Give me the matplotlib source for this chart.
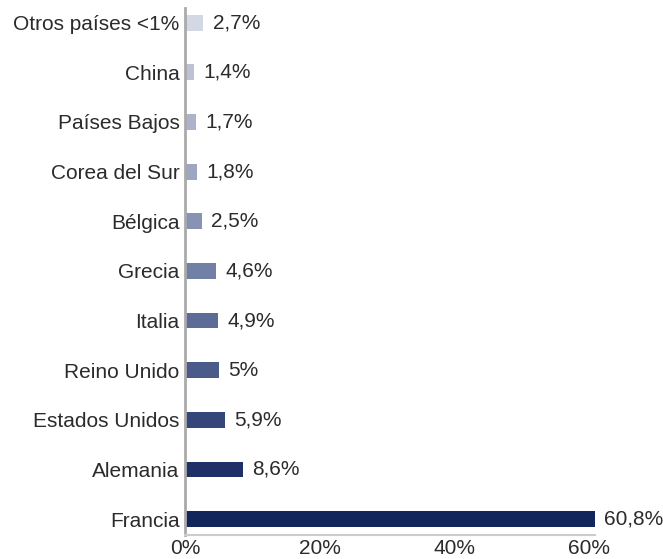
import matplotlib.pyplot as plt
import numpy as np

# Export share by country (%), listed bottom to top
countries = ['Francia', 'Alemania', 'Estados Unidos', 'Reino Unido', 'Italia',
             'Grecia', 'Bélgica', 'Corea del Sur', 'Países Bajos', 'China',
             'Otros países <1%']
shares = [60.8, 8.6, 5.9, 5.0, 4.9, 4.6, 2.5, 1.8, 1.7, 1.4, 2.7]
share_labels = ['60,8%', '8,6%', '5,9%', '5%', '4,9%', '4,6%', '2,5%',
                '1,8%', '1,7%', '1,4%', '2,7%']
x_ticks = [0, 20, 40, 60]
x_tick_labels = ['0%', '20%', '40%', '60%']

colors = ['#13265c', '#1f3068', '#34467a', '#4a5a8a', '#5d6c97', '#7181a6',
          '#8892b4', '#9ea6c2', '#adb3cb', '#bcc1d4', '#d4d8e4']

plt.rcParams['font.family'] = ['Liberation Sans', 'DejaVu Sans']
text_color = '#2b2b2b'
fs = 15

fig = plt.figure(figsize=(6.63, 5.59), dpi=100)
ax = fig.add_axes([0.279, 0.043, 0.618, 0.943])

y = np.arange(len(countries))
ax.barh(y, shares, height=0.32, color=colors, edgecolor='none')

for yi, val, lab in zip(y, shares, share_labels):
    ax.text(val + 1.4, yi, lab, va='center', ha='left', fontsize=fs, color=text_color)

ax.set_yticks(y)
ax.set_yticklabels(countries, fontsize=fs, color=text_color)
ax.set_xticks(x_ticks)
ax.set_xticklabels(x_tick_labels, fontsize=fs, color=text_color)
ax.tick_params(axis='both', length=0)
ax.tick_params(axis='y', pad=4)
ax.tick_params(axis='x', pad=3)

ax.set_xlim(0, 60.8)
ax.set_ylim(-0.32, 10.3)

for side in ['top', 'right']:
    ax.spines[side].set_visible(False)
ax.spines['left'].set_color('#aaaaaa')
ax.spines['left'].set_linewidth(2)
ax.spines['bottom'].set_color('#cccccc')
ax.spines['bottom'].set_linewidth(1.5)

plt.savefig('out.png', dpi=100)
